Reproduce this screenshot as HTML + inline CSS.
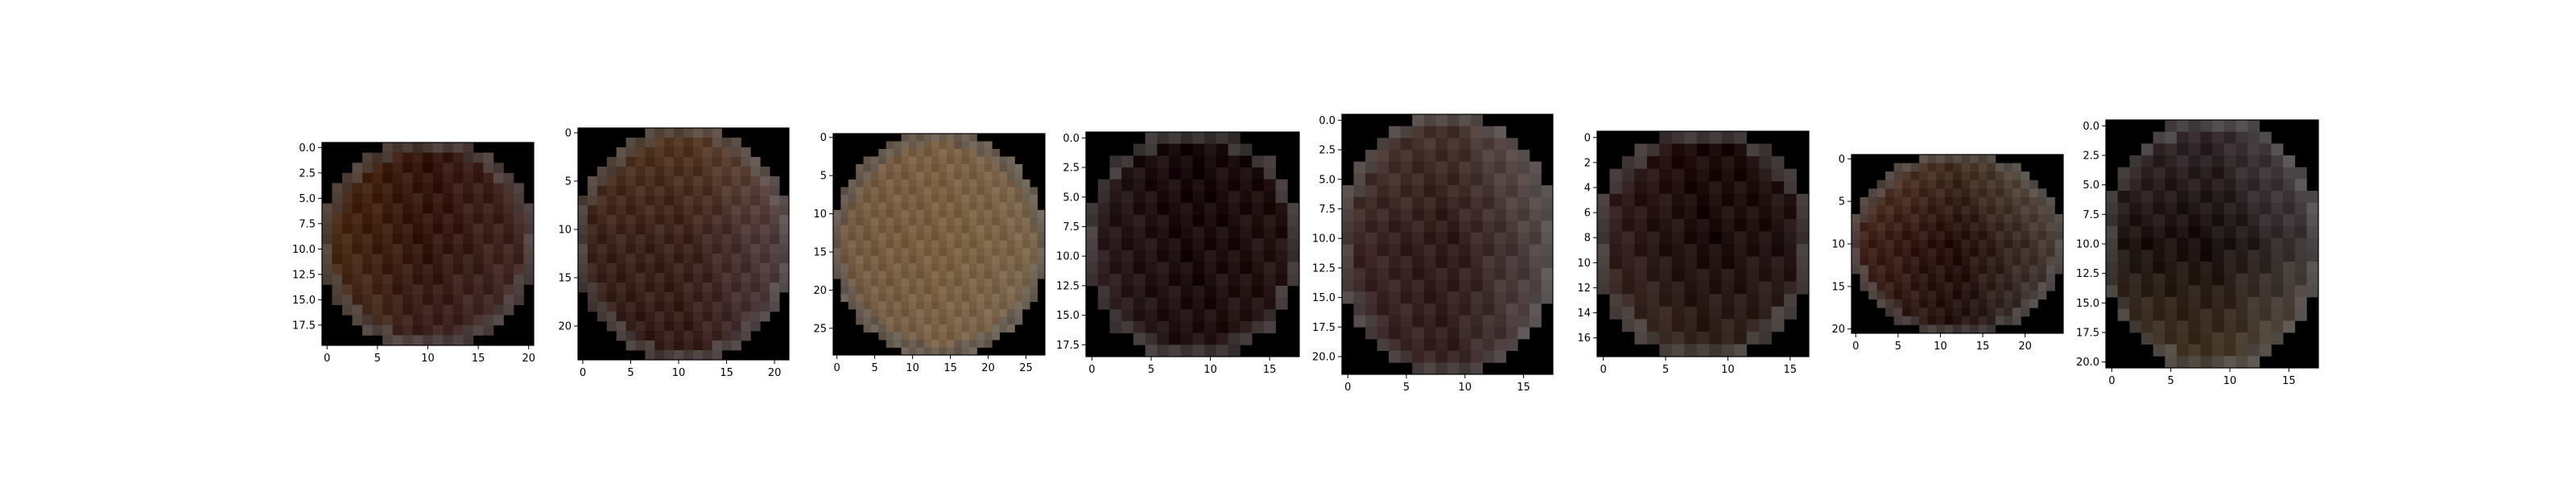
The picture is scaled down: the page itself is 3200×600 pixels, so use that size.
<!DOCTYPE html>
<html><head><meta charset="utf-8"><style>
html,body{margin:0;padding:0;background:#fff;}
svg{display:block;}
text{font-family:"DejaVu Sans","Liberation Sans",sans-serif;font-size:13px;fill:#000;}
</style></head><body>
<svg id="chart" width="3200" height="600" viewBox="0 0 3200 600" xmlns="http://www.w3.org/2000/svg"></svg>
<script>
// panel grid sizes
const panelCols = [21, 22, 28, 18, 18, 17, 25, 18];
const panelRows = [20, 24, 29, 19, 22, 18, 21, 21];
// y tick labels per panel
const yTicks = [
  ["0.0","2.5","5.0","7.5","10.0","12.5","15.0","17.5"],
  ["0","5","10","15","20"],
  ["0","5","10","15","20","25"],
  ["0.0","2.5","5.0","7.5","10.0","12.5","15.0","17.5"],
  ["0.0","2.5","5.0","7.5","10.0","12.5","15.0","17.5","20.0"],
  ["0","2","4","6","8","10","12","14","16"],
  ["0","5","10","15","20"],
  ["0.0","2.5","5.0","7.5","10.0","12.5","15.0","17.5","20.0"]
];
// x tick labels per panel
const xTicks = [
  ["0","5","10","15","20"],
  ["0","5","10","15","20"],
  ["0","5","10","15","20","25"],
  ["0","5","10","15"],
  ["0","5","10","15"],
  ["0","5","10","15"],
  ["0","5","10","15","20"],
  ["0","5","10","15"]
];
// horizontal colour stops (left, middle, right) per panel
const hColors = [
  ["#5a3816","#2c100a","#4a3434"],
  ["#3a2418","#3e2418","#6a5a60"],
  ["#6a5444","#7a6040","#7a6a58"],
  ["#3a2a2e","#140608","#2a1a16"],
  ["#4a3434","#2e1a18","#7a7276"],
  ["#4a3430","#1a0a0a","#2a1c1c"],
  ["#5a3428","#1e0a08","#6a6860"],
  ["#2a1e1a","#1a1010","#6a6468"]
];
// vertical colour stops (top, middle, bottom) per panel
const vColors = [
  ["#3a1a10","#3a1e14","#4a3434"],
  ["#6a4a2a","#3a2422","#2a1618"],
  ["#7a6048","#7a6040","#7a6450"],
  ["#140808","#1e0e10","#2a1a1a"],
  ["#5a4a40","#2e1a18","#3a2828"],
  ["#1c0808","#1c0e0e","#4a3a2e"],
  ["#6a5840","#2a1410","#2a1e1a"],
  ["#4a4048","#140c0a","#6a5838"]
];
// panel boxes in px (left, top, width, height)
const boxes = [
  [400,177,263,252],[718,159,262,288],[1035,166,263,275],[1349,164,265,279],
  [1667,142,262,323],[1984,163,263,280],[2300,192,263,222],[2616,149,264,308]
];
const NS = "http://www.w3.org/2000/svg";
const svg = document.getElementById("chart");
function hex(c){return [parseInt(c.slice(1,3),16),parseInt(c.slice(3,5),16),parseInt(c.slice(5,7),16)];}
function mix3(stops,t){
  const a=hex(stops[0]),b=hex(stops[1]),c=hex(stops[2]);
  let r=[];
  for(let i=0;i<3;i++){r.push(t<0.5? a[i]+(b[i]-a[i])*t*2 : b[i]+(c[i]-b[i])*(t-0.5)*2);}
  return r;
}
function mk(tag,attrs){const e=document.createElementNS(NS,tag);for(const k in attrs)e.setAttribute(k,attrs[k]);return e;}
for(let p=0;p<8;p++){
  const [L,T,W,H]=boxes[p];
  const cols=panelCols[p], rows=panelRows[p];
  const cw=W/cols, ch=H/rows;
  const g=mk("g",{});
  
  
  svg.appendChild(g);
  g.appendChild(mk("rect",{x:L,y:T,width:W,height:H,fill:"#000"}));
  const cx=(cols-1)/2, cy=(rows-1)/2, rx=cols/2+0.3, ry=rows/2+0.3;
  for(let r=0;r<rows;r++){
    for(let c=0;c<cols;c++){
      const d=Math.pow((c-cx)/rx,2)+Math.pow((r-cy)/ry,2);
      if(d>1.0) continue;
      const hc=mix3(hColors[p],c/(cols-1)), vc=mix3(vColors[p],r/(rows-1));
      let col=[0,1,2].map(i=>(hc[i]+vc[i])/2);
      const n=((r*7+c*13+p*5)%9-4)*3;
      if(d>0.8){col=col.map(v=>v*0.5+45);}
      col=col.map(v=>Math.max(0,Math.min(255,Math.round(v+n))));
      const cell=mk("rect",{x:(L+c*cw).toFixed(2),y:(T+r*ch).toFixed(2),width:(cw+0.4).toFixed(2),height:(ch+0.4).toFixed(2),fill:`rgb(${col[0]},${col[1]},${col[2]})`});
      
      
      g.appendChild(cell);
    }
  }
  g.appendChild(mk("rect",{x:L,y:T,width:W,height:H,fill:"none",stroke:"#000","stroke-width":1.2}));
  yTicks[p].forEach(lbl=>{
    const v=parseFloat(lbl);
    const y=T+(v+0.5)*ch;
    g.appendChild(mk("line",{x1:L-5,y1:y,x2:L,y2:y,stroke:"#000","stroke-width":1}));
    const t=mk("text",{x:L-8,y:y+4.5,"text-anchor":"end"});
    t.textContent=lbl;
    
    
    g.appendChild(t);
  });
  xTicks[p].forEach(lbl=>{
    const v=parseFloat(lbl);
    const x=L+(v+0.5)*cw;
    g.appendChild(mk("line",{x1:x,y1:T+H,x2:x,y2:T+H+5,stroke:"#000","stroke-width":1}));
    const t=mk("text",{x:x,y:T+H+20,"text-anchor":"middle"});
    t.textContent=lbl;
    
    
    g.appendChild(t);
  });
}
</script>
</body></html>
